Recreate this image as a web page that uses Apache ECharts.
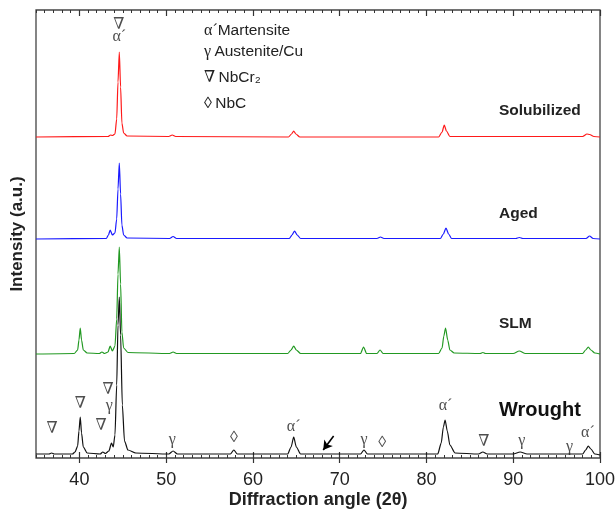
<!DOCTYPE html>
<html>
<head>
<meta charset="utf-8">
<script src="https://cdn.jsdelivr.net/npm/echarts@6/dist/echarts.min.js"></script>
<style>html,body{margin:0;padding:0;background:#fff}#c{width:615px;height:509px}</style>
</head>
<body>
<div id="c"></div>
<script>
// ---- data (2θ in degrees, intensity in arbitrary units above each pattern's own baseline) ----
const seriesNames = ['Solubilized', 'Aged', 'SLM', 'Wrought'];
const offsets = [321, 219, 104, 3];

const solAngle = [35, 43.3, 43.6, 43.8, 44.1, 44.3, 44.45, 44.6, 44.75, 44.9, 45.1, 45.5, 50.3, 50.7, 51.1, 64.1, 64.45, 64.7, 64.95, 65.4, 81.4, 81.8, 82.05, 82.3, 82.7, 98.0, 98.5, 98.8, 99.3, 100];
const solInt   = [0, 0.5, 2, 1.5, 3, 18, 55, 85, 50, 14, 4, 1, 0.5, 2, 0.5, 0, 3, 6, 3, 0, 0, 5, 12, 6, 0.5, 0.5, 3, 2.5, 0.5, 0];

const agedAngle = [35, 43.1, 43.35, 43.55, 43.8, 44.1, 44.3, 44.45, 44.6, 44.75, 44.9, 45.1, 45.5, 50.4, 50.8, 51.2, 64.2, 64.5, 64.8, 65.1, 65.5, 74.3, 74.7, 75.1, 81.6, 81.95, 82.25, 82.55, 82.9, 90.3, 90.7, 91.1, 98.4, 98.8, 99.2, 100];
const agedInt   = [0, 0.5, 4, 9, 4, 6, 20, 50, 76, 45, 14, 4, 1, 0.5, 2.5, 0.5, 0.5, 4, 8, 4, 0.5, 0.5, 2, 0.5, 0.5, 5, 11, 5, 0.5, 0.5, 1.5, 0.5, 0.5, 3, 0.5, 0];

const slmAngle = [35, 39.4, 39.8, 39.95, 40.1, 40.25, 40.45, 40.9, 42.3, 42.6, 42.9, 43.3, 43.55, 43.8, 44.1, 44.3, 44.45, 44.6, 44.75, 44.9, 45.1, 45.6, 50.4, 50.8, 51.2, 64.0, 64.4, 64.7, 65.0, 65.5, 72.4, 72.75, 73.1, 74.3, 74.65, 75.0, 81.4, 81.8, 82.0, 82.2, 82.45, 82.7, 83.2, 86.2, 86.5, 86.8, 90.0, 90.7, 91.4, 98.0, 98.35, 98.65, 98.95, 99.4, 100];
const slmInt   = [0, 0.5, 4, 14, 26, 14, 4, 1, 0.5, 2, 0.5, 2, 8, 3, 8, 35, 80, 107, 70, 22, 6, 1.5, 0.5, 2, 0.5, 0.5, 4, 8, 4, 0.5, 0.5, 7, 0.5, 0.5, 4, 0.5, 0.5, 6, 18, 26, 14, 4, 1, 0.5, 1.5, 0.5, 0.5, 3, 0.5, 0.5, 4, 7, 4, 1, 0];

const wroAngle = [35, 36.5, 36.8, 37.1, 39.2, 39.5, 39.8, 39.95, 40.1, 40.25, 40.45, 40.9, 42.4, 42.7, 43.0, 43.4, 43.7, 43.9, 44.1, 44.3, 44.45, 44.6, 44.75, 44.95, 45.2, 45.6, 46.5, 50.3, 50.8, 51.3, 57.4, 57.8, 58.2, 64.0, 64.4, 64.7, 65.0, 65.5, 72.4, 72.8, 73.2, 81.3, 81.7, 81.95, 82.15, 82.4, 82.7, 83.3, 86.0, 86.5, 87.0, 90.0, 90.8, 91.6, 98.0, 98.35, 98.65, 98.95, 99.4, 100];
const wroInt   = [1, 1, 2, 1, 1, 3, 9, 24, 38, 22, 8, 2, 1, 3, 1.5, 4, 12, 8, 20, 70, 130, 158, 120, 50, 14, 5, 2, 1, 4, 1, 1, 5, 1, 1, 8, 18, 8, 1, 1, 5, 1, 1, 12, 28, 35, 24, 10, 2, 1, 3, 1, 1, 3, 1, 1, 5, 9, 6, 1, 0];

// peak annotations (angle, height on the plot scale, text)
const annoAngle = [44.55, 44.6, 36.85, 40.1, 42.5, 43.3, 43.45, 50.7, 57.8, 64.7, 72.8, 74.9, 82.2, 86.6, 91.0, 96.5, 98.6];
const annoValue = [433, 421, 29, 54, 32, 68, 52, 18, 20, 31, 18, 15, 52, 16, 17, 11, 25];
const annoText  = ['∇', 'α´', '∇', '∇', '∇', '∇', 'γ', 'γ', '◊', 'α´', 'γ', '◊', 'α´', '∇', 'γ', 'γ', 'α´'];

const majorTicks = [40, 50, 60, 70, 80, 90, 100];
const xMin = 35, xMax = 100;
const minorTicks = [];
for (let t = xMin; t <= xMax; t++) minorTicks.push(t);

// ---- chart ----
const colors = ['#ff1a1a', '#1a1aff', '#229922', '#111111'];
const angles = [solAngle, agedAngle, slmAngle, wroAngle];
const ints = [solInt, agedInt, slmInt, wroInt];

const chart = echarts.init(document.getElementById('c'), null, {renderer: 'canvas'});

function xAx(extra) {
  return Object.assign({
    type: 'value', min: xMin, max: xMax, gridIndex: 0,
    axisLine: {show: false}, splitLine: {show: false},
    axisLabel: {show: false}, axisTick: {show: false}
  }, extra);
}

const series = seriesNames.map((name, k) => ({
  name: name, type: 'line', xAxisIndex: 0, yAxisIndex: 0,
  showSymbol: false, symbol: 'none', smooth: 0.25, smoothMonotone: 'x',
  lineStyle: {color: colors[k], width: 1.2},
  data: angles[k].map((a, i) => [a, offsets[k] + ints[k][i]]),
  z: 2 + k,
  markLine: name === 'Wrought' ? {
    silent: true, symbol: ['none', 'arrow'], symbolSize: [8, 9],
    lineStyle: {color: '#000', width: 1.6, type: 'solid'}, label: {show: false},
    data: [[{coord: [69.3, 22]}, {coord: [68.1, 8]}]]
  } : undefined
}));

series.push({
  type: 'scatter', xAxisIndex: 0, yAxisIndex: 0, symbolSize: 0, silent: true, z: 10,
  data: annoAngle.map((a, i) => ({value: [a, annoValue[i]], name: annoText[i]})),
  label: {
    show: true, position: 'inside', formatter: p => p.name,
    fontFamily: 'Liberation Serif, DejaVu Serif, serif', fontSize: 16, color: '#222'
  }
});

const legendRich = {
  g: {fontFamily: 'Liberation Serif, DejaVu Serif, serif', fontSize: 16, fill: '#222'},
  t: {fontFamily: 'Liberation Sans, Arial, sans-serif', fontSize: 15.5, fill: '#222'}
};

const option = {
  animation: false,
  backgroundColor: '#fff',
  grid: {left: 36, right: 15, top: 10, bottom: 51, show: true, borderColor: '#444', borderWidth: 1.3,
         containLabel: false, outerBoundsMode: 'none'},
  xAxis: [
    xAx({position: 'bottom',
      axisTick: {show: true, customValues: majorTicks, inside: false, length: 5, lineStyle: {color: '#333', width: 1.2}},
      axisLabel: {show: true, customValues: majorTicks, margin: 13, fontFamily: 'Liberation Sans, Arial, sans-serif', fontSize: 18, color: '#222'},
      name: 'Diffraction angle (2θ)', nameLocation: 'middle', nameGap: 33, nameMoveOverlap: false,
      nameTextStyle: {fontFamily: 'Liberation Sans, Arial, sans-serif', fontSize: 18, fontWeight: 'bold', color: '#222'}
    }),
    xAx({position: 'bottom', axisTick: {show: true, customValues: minorTicks, inside: true, length: 3, lineStyle: {color: '#333', width: 1}}}),
    xAx({position: 'bottom', axisTick: {show: true, customValues: majorTicks, inside: true, length: 6, lineStyle: {color: '#333', width: 1.2}}}),
    xAx({position: 'top', axisTick: {show: true, customValues: minorTicks, inside: true, length: 3, lineStyle: {color: '#333', width: 1}}}),
    xAx({position: 'top', axisTick: {show: true, customValues: majorTicks, inside: true, length: 6, lineStyle: {color: '#333', width: 1.2}}})
  ],
  yAxis: [{
    type: 'value', min: 0, max: 448, position: 'left',
    axisLine: {show: false}, axisTick: {show: false}, axisLabel: {show: false}, splitLine: {show: false},
    name: 'Intensity (a.u.)', nameLocation: 'middle', nameGap: 10, nameMoveOverlap: false,
    nameTextStyle: {fontFamily: 'Liberation Sans, Arial, sans-serif', fontSize: 17, fontWeight: 'bold', color: '#222'}
  }],
  series: series,
  graphic: [
    {type: 'text', left: 204, top: 23, style: {text: '{g|α´}{t|Martensite}', rich: legendRich}},
    {type: 'text', left: 204, top: 44, style: {text: '{g|γ} {t|Austenite/Cu}', rich: legendRich}},
    {type: 'text', left: 204, top: 70, style: {text: '{g|∇} {t|NbCr₂}', rich: legendRich}},
    {type: 'text', left: 204, top: 96, style: {text: '{g|◊} {t|NbC}', rich: legendRich}},
    {type: 'text', left: 499, top: 103, style: {text: 'Solubilized', font: 'bold 15.5px "Liberation Sans", Arial, sans-serif', fill: '#222'}},
    {type: 'text', left: 499, top: 206, style: {text: 'Aged', font: 'bold 15.5px "Liberation Sans", Arial, sans-serif', fill: '#222'}},
    {type: 'text', left: 499, top: 316, style: {text: 'SLM', font: 'bold 15.5px "Liberation Sans", Arial, sans-serif', fill: '#222'}},
    {type: 'text', left: 499, top: 400, style: {text: 'Wrought', font: 'bold 20px "Liberation Sans", Arial, sans-serif', fill: '#111'}}
  ]
};
chart.setOption(option);
</script>
</body>
</html>
